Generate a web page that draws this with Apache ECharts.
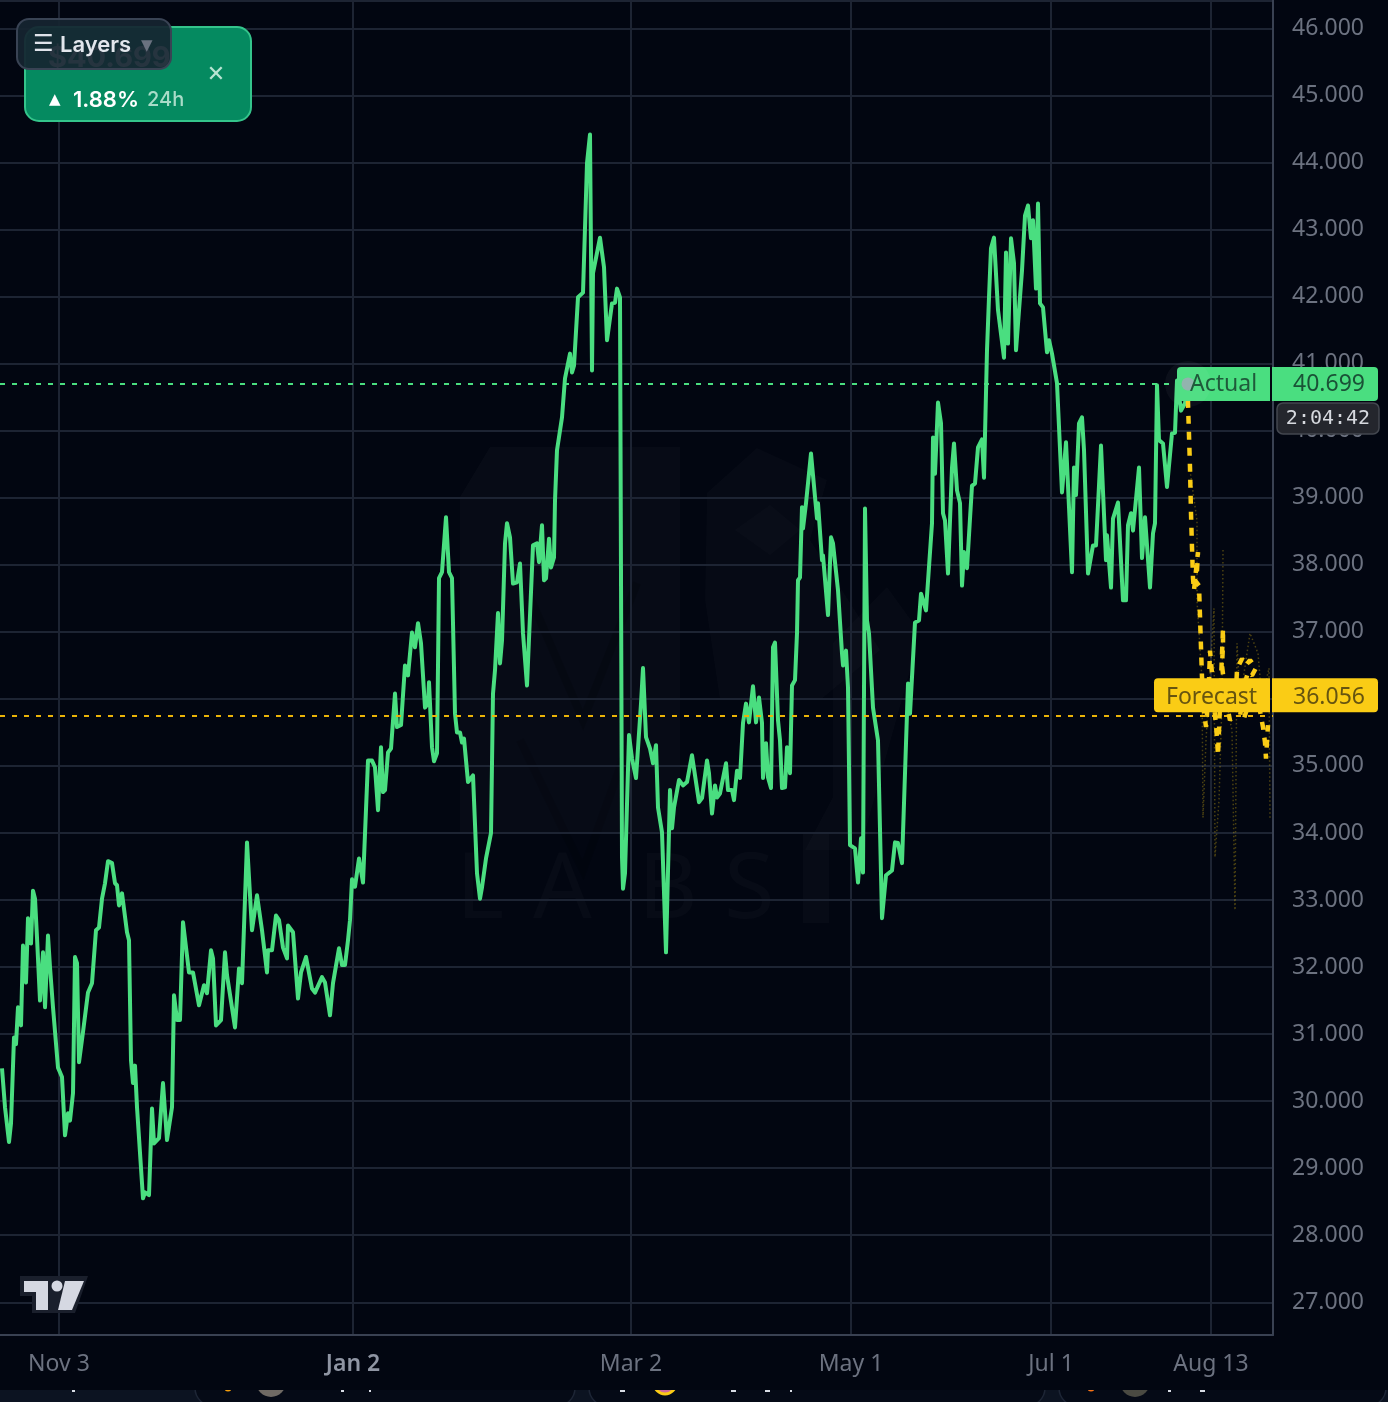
<!DOCTYPE html>
<html>
<head>
<meta charset="utf-8">
<title>Actual vs Forecast</title>
<style>
html,body{margin:0;padding:0;background:#020611;overflow:hidden}
#chart{width:1388px;height:1402px;filter:blur(0.6px)}
</style>
<script src="https://cdn.jsdelivr.net/npm/echarts@6/dist/echarts.min.js"></script>
</head>
<body>
<div id="chart"></div>
<script>
// ---- data ----
const barIndex = [2,5,9,11,14,16,18,21,23,26,28,31,33,35,37,40,43,45,48,50,53,55,58,62,65,68,70,73,75,77,79,83,88,92,96,99,102,105,108,112,115,117,119,122,127,129,131,133,135,137,143,145,149,152,154,159,163,167,172,174,177,180,183,189,193,199,204,207,211,213,216,221,225,227,235,239,242,247,252,257,262,267,268,272,276,279,283,287,288,293,298,301,306,312,315,322,325,330,333,339,342,345,348,350,352,355,359,363,368,372,375,378,381,383,385,388,391,395,397,401,405,408,412,415,418,421,425,428,429,432,434,437,439,442,446,449,452,455,457,460,462,464,468,473,477,480,482,486,488,491,493,495,498,500,502,505,507,510,513,517,520,523,527,533,537,539,542,544,546,549,551,554,555,557,562,565,570,572,574,578,583,587,590,592,593,600,604,607,612,615,617,620,622,623,625,629,632,636,641,643,646,650,653,656,658,662,666,670,672,674,679,683,687,692,699,702,707,709,712,715,717,720,726,728,732,734,737,740,743,746,749,753,756,759,762,763,766,768,771,773,775,778,780,782,785,787,790,792,795,797,798,800,802,803,806,811,817,818,822,823,828,831,833,838,842,843,846,848,850,855,858,861,863,865,867,869,873,875,878,882,886,892,895,898,902,908,910,915,919,921,923,926,932,933,935,938,941,943,945,948,952,954,957,960,962,964,967,972,975,978,982,984,987,989,991,994,998,1004,1006,1008,1011,1014,1016,1022,1025,1028,1031,1033,1036,1038,1040,1043,1047,1049,1052,1057,1062,1066,1072,1074,1076,1079,1082,1084,1088,1093,1096,1101,1106,1107,1111,1113,1118,1123,1126,1128,1131,1133,1139,1142,1145,1150,1153,1155,1157,1159,1163,1167,1172,1175,1177,1181,1185,1188];
const actualPrice = [30.49,29.91,29.39,29.67,30.95,30.85,31.40,31.13,32.32,31.77,32.73,32.35,33.14,33.02,32.44,31.50,32.22,31.40,32.47,32.00,31.40,31.38,30.50,30.36,29.49,29.82,29.71,30.12,32.15,32.06,30.58,31.03,31.62,31.76,32.55,32.59,33.02,33.25,33.58,33.55,33.25,33.22,32.92,33.10,32.52,32.40,30.61,30.27,30.53,29.91,28.55,28.64,28.60,29.89,29.37,29.45,30.27,29.42,29.91,31.58,31.21,31.21,32.67,31.92,31.92,31.43,31.73,31.61,32.25,32.13,31.13,31.21,32.22,31.88,31.10,31.98,31.76,33.86,32.55,33.07,32.55,31.92,32.25,32.25,32.77,32.70,32.29,32.13,32.62,32.52,31.53,31.92,32.15,31.68,31.62,31.85,31.77,31.28,31.76,32.28,32.03,32.03,32.40,32.70,33.31,33.20,33.62,33.26,35.08,35.08,34.98,34.34,35.28,34.61,34.64,35.20,35.26,36.08,35.58,35.61,36.50,36.35,36.99,36.77,37.13,36.83,35.87,35.93,36.25,35.28,35.07,35.19,37.80,37.89,38.71,37.89,37.80,35.78,35.50,35.50,35.35,35.41,34.76,34.86,33.40,33.02,33.19,33.62,33.64,34.00,36.08,36.43,37.28,36.53,36.87,38.32,38.62,38.41,37.72,37.74,38.02,36.98,36.20,38.29,38.32,38.04,38.59,37.77,37.80,38.39,37.96,38.11,38.96,39.71,40.20,40.78,41.15,40.87,40.97,41.99,42.06,43.99,44.42,40.90,42.35,42.88,42.44,41.35,41.90,41.91,42.12,41.99,33.64,33.17,33.40,35.46,35.11,34.82,35.93,36.46,35.43,35.26,35.04,35.31,34.38,34.01,32.22,34.64,34.07,34.38,34.79,34.71,34.76,35.16,34.46,34.52,35.08,34.89,34.29,34.71,34.53,34.59,35.04,34.64,34.64,34.49,34.93,34.82,35.64,35.93,35.65,36.19,35.65,36.02,35.64,34.82,35.34,34.83,34.67,36.77,36.84,35.68,35.38,34.67,34.68,35.28,34.89,36.20,36.28,36.98,37.77,37.81,38.86,38.54,38.92,39.66,38.69,38.92,38.07,38.14,37.25,38.41,38.32,37.62,36.68,36.50,36.72,36.17,33.82,33.77,33.26,33.92,33.41,38.84,37.17,36.98,35.87,35.86,35.38,32.73,33.37,33.44,33.86,33.85,33.55,36.23,35.78,37.14,37.17,37.57,37.57,37.32,38.62,39.90,39.36,40.42,40.11,38.77,38.66,37.87,39.45,39.81,39.11,38.92,37.69,38.19,37.95,39.18,39.21,39.75,39.87,39.30,41.20,41.99,42.72,42.88,41.80,41.09,42.66,41.30,42.87,42.50,41.20,42.39,43.21,43.36,42.87,43.14,42.12,43.39,41.90,41.84,41.17,41.35,41.15,40.71,39.08,39.83,37.89,39.45,39.04,40.11,40.20,39.71,37.87,38.29,38.29,39.78,38.07,38.44,37.66,38.69,38.93,37.47,37.47,38.59,38.77,38.51,39.45,38.10,38.71,37.66,38.47,38.62,40.68,39.86,39.81,39.16,39.96,39.97,40.75,40.30,40.41,40.70];

const forecastBar = [1188,1188,1190,1191,1192,1193,1194,1196,1198,1197,1195,1199,1200,1201,1202,1204,1206,1207,1209,1210,1212,1214,1216,1217,1218,1219,1221,1223,1223,1222,1226,1230,1233,1236,1237,1240,1242,1246,1250,1256,1252,1248,1243,1240,1244,1250,1258,1263,1265,1266,1268];
const forecastPrice = [40.70,40.42,39.45,38.77,38.26,37.80,37.62,37.92,38.19,37.92,37.77,37.69,37.23,36.77,36.32,35.80,35.58,35.75,36.28,36.72,36.38,35.90,35.61,35.41,35.16,35.53,36.28,37.05,36.80,36.50,35.98,35.68,35.75,36.13,36.43,36.54,36.60,36.50,36.58,36.46,36.35,36.40,36.13,35.72,35.71,35.98,35.98,35.58,35.35,35.11,35.61];

const pathABar = [1190,1197,1197,1202,1203,1206,1214,1215,1219,1222,1223];
const pathAPrice = [39.41,38.66,37.47,36.28,34.23,35.38,37.35,33.64,34.49,35.98,38.22];
const pathBBar = [1226,1232,1235,1237,1240,1250,1258,1262,1269,1270];
const pathBPrice = [35.98,35.53,32.85,36.83,35.98,36.98,36.68,35.98,36.46,34.19];

const yTicks = [27,28,29,30,31,32,33,34,35,36,37,38,39,40,41,42,43,44,45,46];
const xTickBars = [59,353,631,851,1051,1211];
const xTickLabels = ['Nov 3','Jan 2','Mar 2','May 1','Jul 1','Aug 13'];
const boldXLabel = 'Jan 2';
const lastActual = 40.699;
const lastForecast = 36.056;
const forecastGuide = 35.75;
const countdown = '2:04:42';
const changeText = '1.88%';
const bannerPrice = '$40.699';

// ---- chart ----
const BG = '#020611';
const GRID = '#1d2433';
const AXIS = '#394152';
const FONT = '"Noto Sans", sans-serif';
const UI = 'Inter, sans-serif';

const zip = (xs, ys) => xs.map((x, i) => [x, ys[i]]);
const chart = echarts.init(document.getElementById('chart'), null, {renderer: 'canvas'});

const thinDots = {color: '#facc15', width: 1.5, type: [1.5, 2.5], opacity: 0.3};

chart.setOption({
  animation: false,
  backgroundColor: BG,
  grid: {left: 0, top: 0, width: 1273, height: 1335},
  xAxis: {
    type: 'value', min: 0, max: 1273, position: 'bottom', z: 2,
    axisLine: {show: true, onZero: false, lineStyle: {color: AXIS, width: 2}},
    axisTick: {show: false, customValues: xTickBars},
    splitLine: {show: true, lineStyle: {color: GRID, width: 2}},
    axisLabel: {
      show: true, customValues: xTickBars, margin: 18,
      formatter: v => {
        const t = xTickLabels[xTickBars.indexOf(v)] || '';
        return t === boldXLabel ? '{b|' + t + '}' : t;
      },
      color: '#6c7280', fontFamily: FONT, fontSize: 23,
      rich: {b: {color: '#8f95a3', fontFamily: FONT, fontSize: 23, fontWeight: 600}}
    }
  },
  yAxis: {
    type: 'value', min: 26.512, max: 46.425, position: 'right', z: 2,
    axisLine: {show: true, onZero: false, lineStyle: {color: AXIS, width: 2}},
    axisTick: {show: false, customValues: yTicks},
    splitLine: {show: true, lineStyle: {color: GRID, width: 2}},
    axisLabel: {
      show: true, customValues: yTicks, margin: 19, padding: [2, 0, 0, 0], color: '#6c7280', fontFamily: FONT, fontSize: 23,
      formatter: v => v.toFixed(3)
    }
  },
  series: [
    {name: 'Path A', type: 'line', data: zip(pathABar, pathAPrice), showSymbol: false, z: 3, lineStyle: thinDots},
    {name: 'Path B', type: 'line', data: zip(pathBBar, pathBPrice), showSymbol: false, z: 3, lineStyle: thinDots},
    {
      name: 'Actual', type: 'line', data: zip(barIndex, actualPrice), showSymbol: false, z: 4,
      lineStyle: {color: '#4ade80', width: 4, join: 'round'},
      markLine: {
        silent: true, symbol: 'none', animation: false, label: {show: false},
        lineStyle: {color: '#4ade80', width: 2, type: [5, 7]},
        data: [{yAxis: lastActual}]
      }
    },
    {
      name: 'Forecast', type: 'line', data: zip(forecastBar, forecastPrice), showSymbol: false, z: 5,
      lineStyle: {color: '#facc15', width: 4.5, type: [8, 8]},
      markLine: {
        silent: true, symbol: 'none', animation: false, label: {show: false},
        lineStyle: {color: '#eab308', width: 2, type: [5, 7]},
        data: [{yAxis: forecastGuide}]
      }
    },
    {name: 'Halo', type: 'scatter', data: [[1188, lastActual]], symbolSize: 46, z: 55, itemStyle: {color: 'rgba(255,255,255,0.05)'}, silent: true},
    {name: 'Last', type: 'scatter', data: [[1188, lastActual]], symbolSize: 13, z: 56, itemStyle: {color: '#a3a9b8'}, silent: true}
  ]
});

// ---- overlays (tags, banner, logo, watermark) ----
const yActual = chart.convertToPixel({yAxisIndex: 0}, lastActual);
const yForecast = chart.convertToPixel({yAxisIndex: 0}, lastForecast);
const WM = 'rgba(255,255,255,0.022)';
const wmStroke = 'rgba(255,255,255,0.018)';

const rect = (x, y, w, h, fill, z, r, stroke, lw) => ({
  type: 'rect', silent: true, z, shape: {x, y, width: w, height: h, r: r || 0},
  style: {fill, stroke: stroke || null, lineWidth: lw || 0}
});
const txt = (x, y, text, font, fill, z, align) => ({
  type: 'text', silent: true, z, x, y,
  style: {text, font, fill, align: align || 'left', verticalAlign: 'middle'}
});
const poly = (pts, fill, z, stroke, lw) => ({
  type: 'polygon', silent: true, z, shape: {points: pts},
  style: {fill, stroke: stroke || null, lineWidth: lw || 0}
});
const pline = (pts, stroke, z, lw) => ({
  type: 'polyline', silent: true, z, shape: {points: pts},
  style: {fill: null, stroke, lineWidth: lw}
});

const elements = [
  // top rule
  rect(0, 0, 1273, 2, GRID, 1),
  // watermark
  poly([[460,497],[490,447],[680,447],[680,833],[460,833]], WM, 1),
  pline([[530,597],[583,720],[637,583]], 'rgba(0,0,0,0.16)', 1, 8),
  pline([[520,740],[583,870],[630,740]], 'rgba(0,0,0,0.12)', 1, 8),
  poly([[707,493],[757,448],[827,480],[810,540],[880,650],[820,700],[720,700],[705,600]], wmStroke, 1),
  poly([[735,530],[770,505],[800,530],[770,555]], 'rgba(255,255,255,0.015)', 1),
  poly([[833,797],[833,643],[887,587],[913,623],[913,660],[860,850],[805,850]], wmStroke, 1),
  txt(456, 892, 'L', '400 92px ' + FONT, WM, 1),
  txt(533, 892, 'A', '400 92px ' + FONT, WM, 1),
  txt(638, 892, 'B', '400 92px ' + FONT, WM, 1),
  txt(724, 892, 'S', '400 92px ' + FONT, WM, 1),
  rect(803, 833, 26, 90, WM, 1),

  // TradingView-style logo
  poly([[20,1276],[88,1276],[75,1313],[32,1313],[32,1296],[20,1296]], '#1a1f2c', 10),
  poly([[24,1281],[48,1281],[48,1310],[36,1310],[36,1292],[24,1292]], '#d5d8e2', 11),
  poly([[65,1281],[84,1281],[72,1310],[58,1310]], '#d5d8e2', 11),
  {type: 'circle', silent: true, z: 11, shape: {cx: 57, cy: 1286, r: 5.5}, style: {fill: '#d5d8e2'}},

  // bottom strip
  rect(0, 1390, 1388, 12, '#0c1321', 1),
  rect(195, 1360, 380, 46, '#050a16', 1, 18, '#1d2535', 1.5),
  rect(589, 1360, 456, 46, '#050a16', 1, 18, '#1d2535', 1.5),
  rect(1059, 1360, 327, 46, '#050a16', 1, 18, '#1d2535', 1.5),
  {type: 'circle', silent: true, z: 1, shape: {cx: 228, cy: 1388, r: 3.5}, style: {fill: '#f59e0b'}},
  {type: 'circle', silent: true, z: 1, shape: {cx: 271, cy: 1382, r: 15}, style: {fill: '#6f6a64'}},
  {type: 'circle', silent: true, z: 1, shape: {cx: 665, cy: 1383, r: 11}, style: {fill: '#d16a9a', stroke: '#facc15', lineWidth: 3}},
  {type: 'circle', silent: true, z: 1, shape: {cx: 1091, cy: 1388, r: 3.5}, style: {fill: '#f97316'}},
  {type: 'circle', silent: true, z: 1, shape: {cx: 1135, cy: 1382, r: 15}, style: {fill: '#4a4a42'}},
  rect(72, 1390, 3, 2, '#d8dce4', 1),
  rect(341, 1390, 3, 2, '#d8dce4', 1),
  rect(369, 1390, 2, 2, '#d8dce4', 1),
  rect(620, 1390, 5, 2, '#d8dce4', 1),
  rect(731, 1390, 5, 2, '#d8dce4', 1),
  rect(765, 1390, 5, 2, '#d8dce4', 1),
  rect(790, 1390, 2, 2, '#d8dce4', 1),
  rect(1168, 1390, 3, 2, '#d8dce4', 1),
  rect(1200, 1390, 5, 2, '#d8dce4', 1),
  rect(0, 1337, 1388, 53, BG, 1.5),

  // price tags
  rect(1177, yActual - 17, 93, 34, '#4ade80', 53, [4, 0, 0, 4]),
  rect(1272, yActual - 17, 106, 34, '#4ade80', 53, [0, 4, 4, 0]),
  txt(1190, yActual + 1, 'Actual', '23px ' + FONT, '#1f5a3a', 57),
  txt(1365, yActual + 1, lastActual.toFixed(3), '23px ' + FONT, '#1a5236', 57, 'right'),
  rect(1154, yForecast - 17, 116, 34, '#facc15', 53, [4, 0, 0, 4]),
  rect(1272, yForecast - 17, 106, 34, '#facc15', 53, [0, 4, 4, 0]),
  txt(1166, yForecast + 2, 'Forecast', '23px ' + FONT, '#665410', 57),
  txt(1365, yForecast + 2, lastForecast.toFixed(3), '23px ' + FONT, '#665410', 57, 'right'),
  rect(1277, yActual + 19, 102, 31, '#24262d', 53, 6, '#43474f', 1.5),
  txt(1328, yActual + 35, countdown, '20px "DejaVu Sans Mono", monospace', '#d6d9df', 57, 'center'),

  // banner
  rect(25, 27, 226, 94, '#058a60', 60, 14, '#34c48b', 2),
  txt(48, 58, bannerPrice, '700 29px ' + UI, '#ffffff', 61),
  txt(216, 75, '\u2715', '22px "DejaVu Sans", sans-serif', '#b9e5d3', 61, 'center'),
  txt(49, 100, '\u25B2', '15px "DejaVu Sans", sans-serif', '#ffffff', 61),
  txt(73, 100, changeText, '600 22px ' + UI, '#ffffff', 61),
  txt(147, 100, '24h', '500 20px ' + UI, '#a9dcc8', 61),
  rect(17, 19, 154, 50, 'rgba(22,37,48,0.93)', 62, 12, '#394354', 2),
  txt(33, 45, '\u2630', '700 23px "DejaVu Sans", sans-serif', '#dfe3ea', 63),
  txt(60, 45, 'Layers', '600 22px ' + UI, '#e2e6ec', 63),
  txt(141, 46, '\u25BC', '15px "DejaVu Sans", sans-serif', '#6b7280', 63)
];

chart.setOption({graphic: {elements}});
</script>
</body>
</html>
